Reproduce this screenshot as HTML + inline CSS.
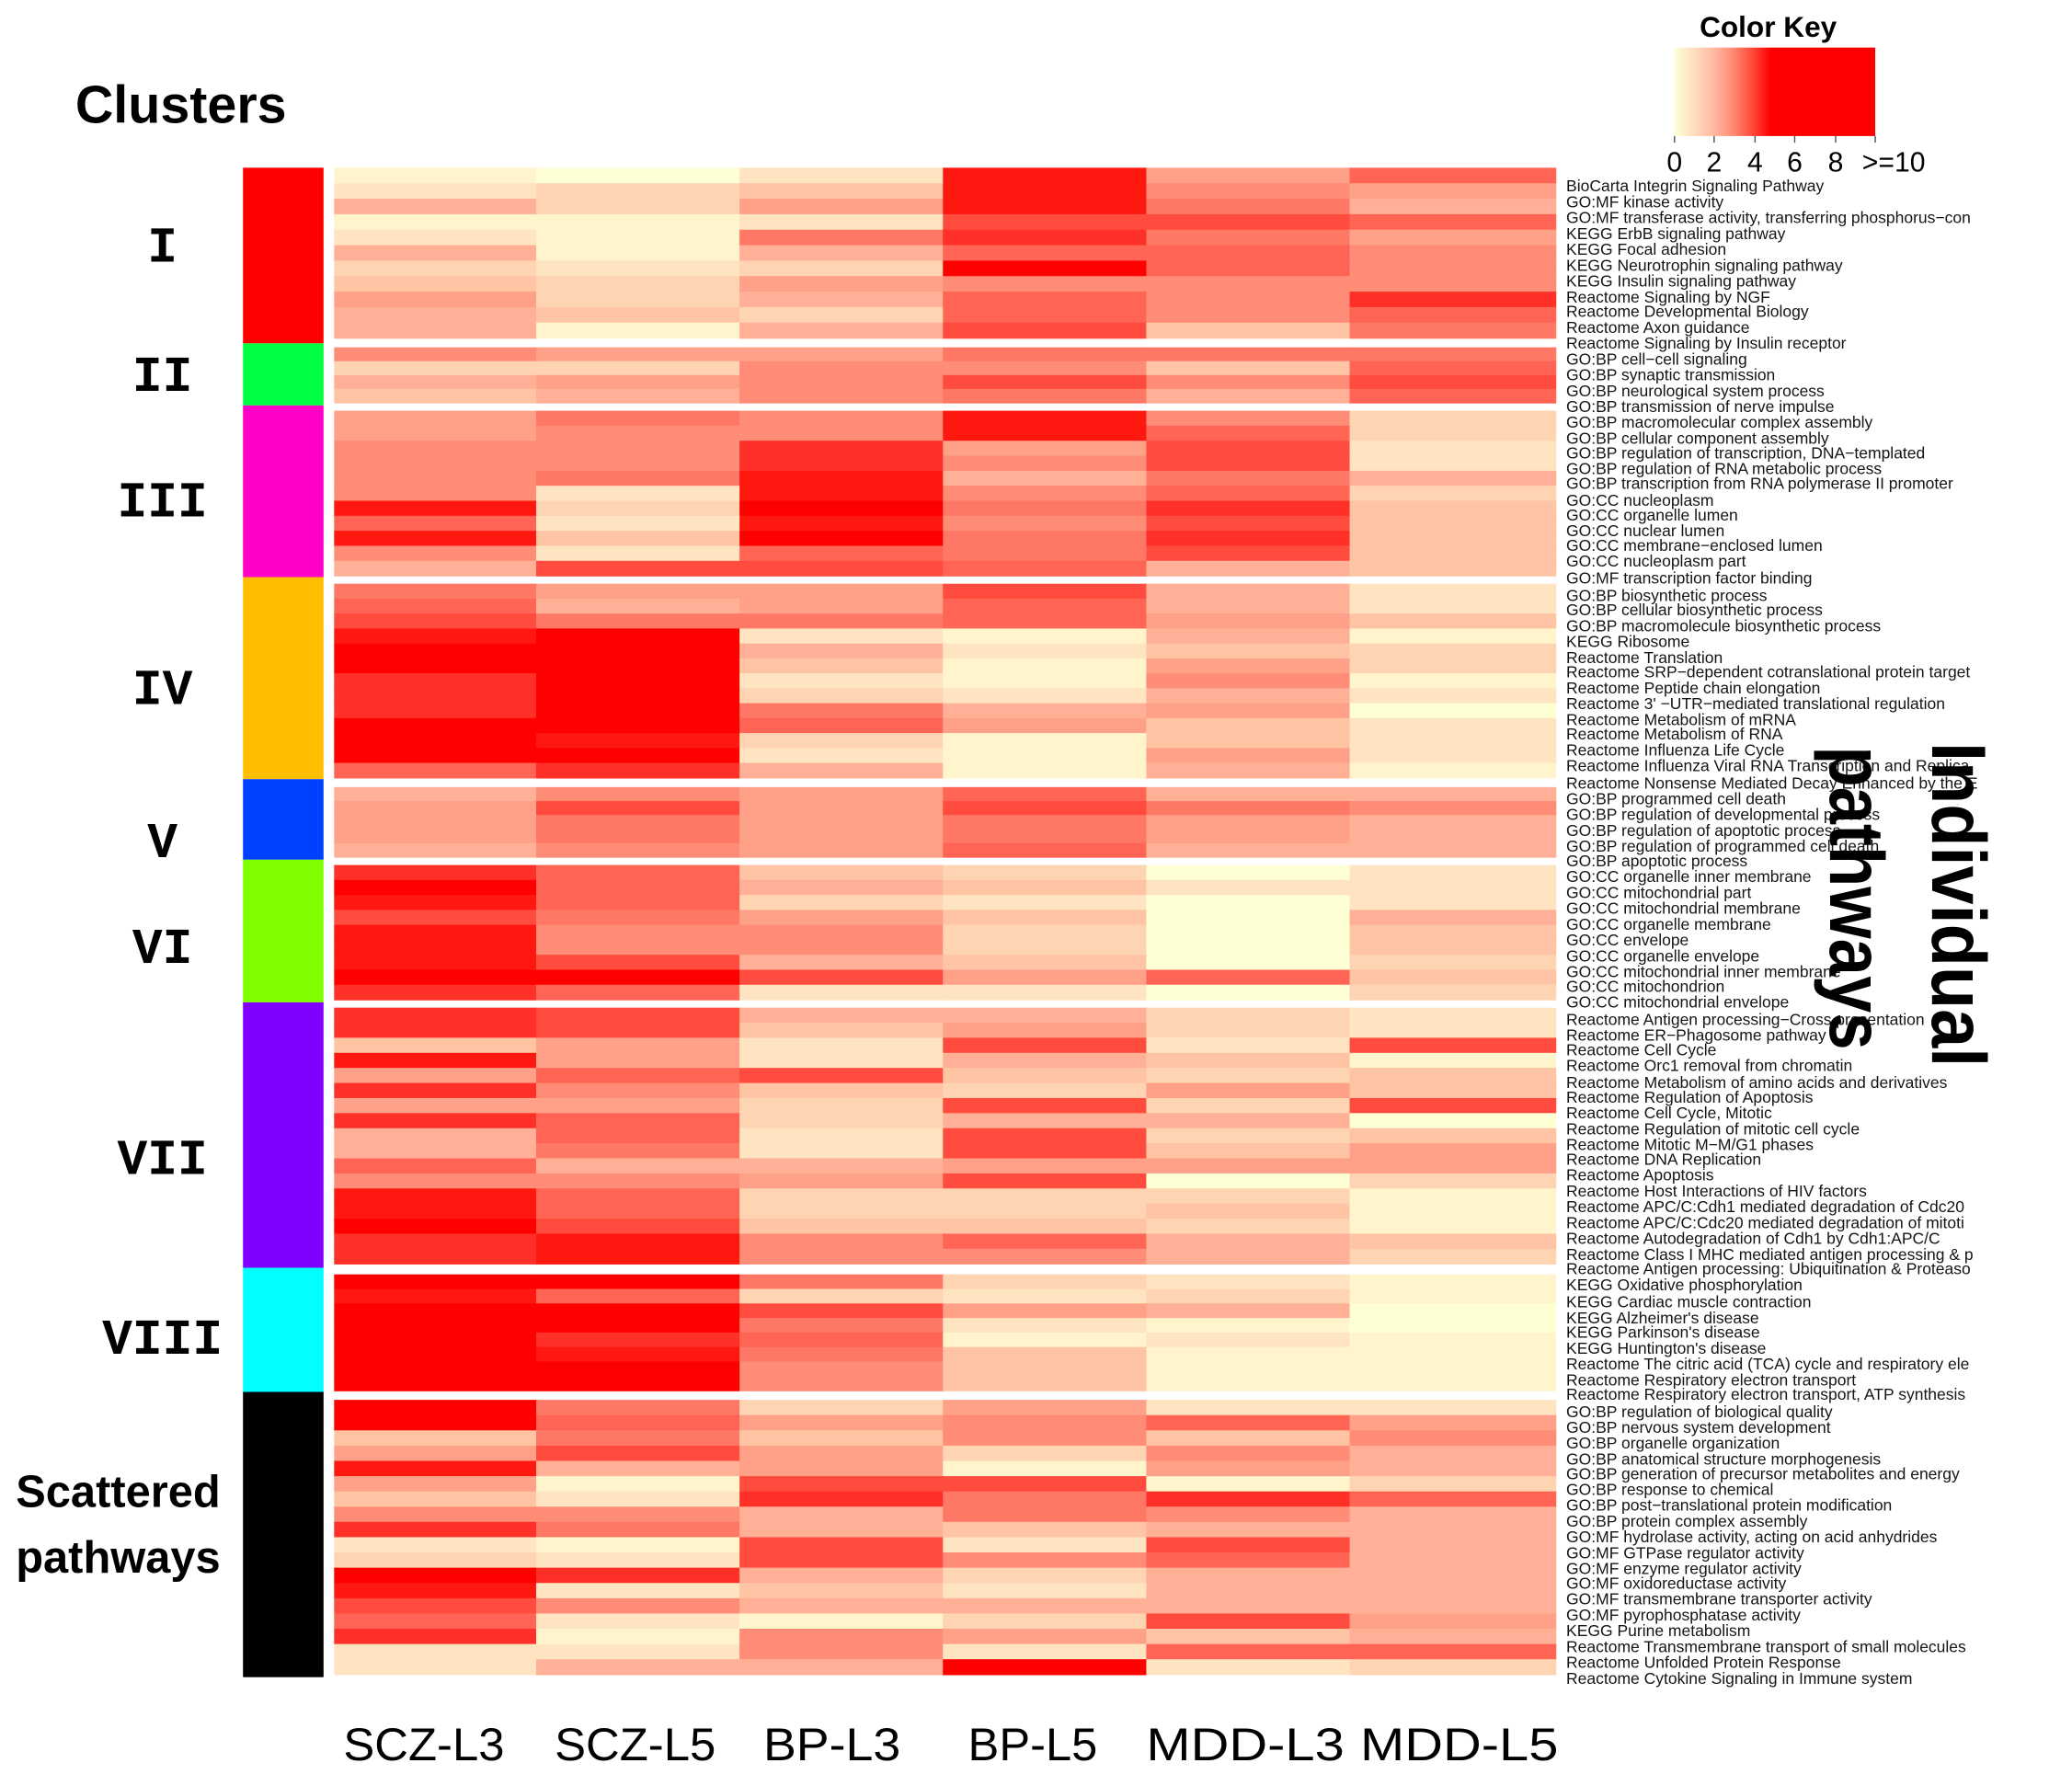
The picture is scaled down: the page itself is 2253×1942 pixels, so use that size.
<!DOCTYPE html>
<html><head><meta charset="utf-8">
<style>
html,body{margin:0;padding:0;background:#fff;}
svg{display:block;}
.rl{font-family:"Liberation Sans",Arial,sans-serif;font-size:12.2px;fill:#151515;}
.big{font-family:"Liberation Sans",Arial,sans-serif;font-weight:bold;fill:#000;}
.rom{font-family:"Liberation Mono","Courier New",monospace;font-weight:bold;font-size:38px;fill:#000;text-anchor:middle;}
.col{font-family:"Liberation Sans",Arial,sans-serif;font-size:35px;fill:#000;}
</style></head>
<body>
<svg id="s" xmlns="http://www.w3.org/2000/svg" width="2253" height="1942" viewBox="0 0 1569 1352.4">
<defs>
<linearGradient id="g" x1="0" x2="1" y1="0" y2="0">
<stop offset="0" stop-color="#FFFFD6"/>
<stop offset="0.08" stop-color="#FFE4C4"/>
<stop offset="0.2" stop-color="#FFB8A0"/>
<stop offset="0.3" stop-color="#FF8570"/>
<stop offset="0.4" stop-color="#FF4030"/>
<stop offset="0.48" stop-color="#FF0000"/>
<stop offset="1" stop-color="#FF0000"/>
</linearGradient>
</defs>
<g id="hm"></g>
<text class="big" x="57" y="93" font-size="40">Clusters</text>
<text class="rom" x="123" y="198">I</text>
<text class="rom" x="123" y="296">II</text>
<text class="rom" x="123" y="391">III</text>
<text class="rom" x="123" y="533">IV</text>
<text class="rom" x="123" y="649">V</text>
<text class="rom" x="123" y="729">VI</text>
<text class="rom" x="123" y="889">VII</text>
<text class="rom" x="123" y="1025">VIII</text>
<text class="big" x="12" y="1141" font-size="34">Scattered</text>
<text class="big" x="12" y="1191" font-size="34">pathways</text>
<text class="col" x="260" y="1333" textLength="122" lengthAdjust="spacingAndGlyphs">SCZ-L3</text>
<text class="col" x="420" y="1333" textLength="122" lengthAdjust="spacingAndGlyphs">SCZ-L5</text>
<text class="col" x="578" y="1333" textLength="104" lengthAdjust="spacingAndGlyphs">BP-L3</text>
<text class="col" x="733" y="1333" textLength="98" lengthAdjust="spacingAndGlyphs">BP-L5</text>
<text class="col" x="868" y="1333" textLength="150" lengthAdjust="spacingAndGlyphs">MDD-L3</text>
<text class="col" x="1030" y="1333" textLength="150" lengthAdjust="spacingAndGlyphs">MDD-L5</text>
<text class="big" font-size="22" x="1287" y="28">Color Key</text>
<rect x="1268" y="36" width="152" height="67" fill="url(#g)"/>
<g stroke="#555" stroke-width="1">
<line x1="1268" y1="103" x2="1268" y2="108"/><line x1="1298" y1="103" x2="1298" y2="108"/>
<line x1="1329" y1="103" x2="1329" y2="108"/><line x1="1359" y1="103" x2="1359" y2="108"/>
<line x1="1390" y1="103" x2="1390" y2="108"/><line x1="1420" y1="103" x2="1420" y2="108"/>
</g>
<g font-family="Liberation Sans,Arial,sans-serif" font-size="21" fill="#000" text-anchor="middle">
<text x="1268" y="130">0</text><text x="1298" y="130">2</text><text x="1329" y="130">4</text>
<text x="1359" y="130">6</text><text x="1390" y="130">8</text><text x="1434" y="130">&gt;=10</text>
</g>
<g class="rl">
<text x="1186" y="145">BioCarta Integrin Signaling Pathway</text>
<text x="1186" y="157">GO:MF kinase activity</text>
<text x="1186" y="169">GO:MF transferase activity, transferring phosphorus−con</text>
<text x="1186" y="181">KEGG ErbB signaling pathway</text>
<text x="1186" y="193">KEGG Focal adhesion</text>
<text x="1186" y="205">KEGG Neurotrophin signaling pathway</text>
<text x="1186" y="217">KEGG Insulin signaling pathway</text>
<text x="1186" y="229">Reactome Signaling by NGF</text>
<text x="1186" y="240">Reactome Developmental Biology</text>
<text x="1186" y="252">Reactome Axon guidance</text>
<text x="1186" y="264">Reactome Signaling by Insulin receptor</text>
<text x="1186" y="276">GO:BP cell−cell signaling</text>
<text x="1186" y="288">GO:BP synaptic transmission</text>
<text x="1186" y="300">GO:BP neurological system process</text>
<text x="1186" y="312">GO:BP transmission of nerve impulse</text>
<text x="1186" y="324">GO:BP macromolecular complex assembly</text>
<text x="1186" y="336">GO:BP cellular component assembly</text>
<text x="1186" y="347">GO:BP regulation of transcription, DNA−templated</text>
<text x="1186" y="359">GO:BP regulation of RNA metabolic process</text>
<text x="1186" y="370">GO:BP transcription from RNA polymerase II promoter</text>
<text x="1186" y="383">GO:CC nucleoplasm</text>
<text x="1186" y="394">GO:CC organelle lumen</text>
<text x="1186" y="406">GO:CC nuclear lumen</text>
<text x="1186" y="417">GO:CC membrane−enclosed lumen</text>
<text x="1186" y="429">GO:CC nucleoplasm part</text>
<text x="1186" y="442">GO:MF transcription factor binding</text>
<text x="1186" y="455">GO:BP biosynthetic process</text>
<text x="1186" y="466">GO:BP cellular biosynthetic process</text>
<text x="1186" y="478">GO:BP macromolecule biosynthetic process</text>
<text x="1186" y="490">KEGG Ribosome</text>
<text x="1186" y="502">Reactome Translation</text>
<text x="1186" y="513">Reactome SRP−dependent cotranslational protein target</text>
<text x="1186" y="525">Reactome Peptide chain elongation</text>
<text x="1186" y="537">Reactome 3' −UTR−mediated translational regulation</text>
<text x="1186" y="549">Reactome Metabolism of mRNA</text>
<text x="1186" y="560">Reactome Metabolism of RNA</text>
<text x="1186" y="572">Reactome Influenza Life Cycle</text>
<text x="1186" y="584">Reactome Influenza Viral RNA Transcription and Replica</text>
<text x="1186" y="597">Reactome Nonsense Mediated Decay Enhanced by the E</text>
<text x="1186" y="609">GO:BP programmed cell death</text>
<text x="1186" y="621">GO:BP regulation of developmental process</text>
<text x="1186" y="633">GO:BP regulation of apoptotic process</text>
<text x="1186" y="645">GO:BP regulation of programmed cell death</text>
<text x="1186" y="656">GO:BP apoptotic process</text>
<text x="1186" y="668">GO:CC organelle inner membrane</text>
<text x="1186" y="680">GO:CC mitochondrial part</text>
<text x="1186" y="692">GO:CC mitochondrial membrane</text>
<text x="1186" y="704">GO:CC organelle membrane</text>
<text x="1186" y="716">GO:CC envelope</text>
<text x="1186" y="728">GO:CC organelle envelope</text>
<text x="1186" y="740">GO:CC mitochondrial inner membrane</text>
<text x="1186" y="751">GO:CC mitochondrion</text>
<text x="1186" y="763">GO:CC mitochondrial envelope</text>
<text x="1186" y="776">Reactome Antigen processing−Cross presentation</text>
<text x="1186" y="788">Reactome ER−Phagosome pathway</text>
<text x="1186" y="799">Reactome Cell Cycle</text>
<text x="1186" y="811">Reactome Orc1 removal from chromatin</text>
<text x="1186" y="824">Reactome Metabolism of amino acids and derivatives</text>
<text x="1186" y="835">Reactome Regulation of Apoptosis</text>
<text x="1186" y="847">Reactome Cell Cycle, Mitotic</text>
<text x="1186" y="859">Reactome Regulation of mitotic cell cycle</text>
<text x="1186" y="871">Reactome Mitotic M−M/G1 phases</text>
<text x="1186" y="882">Reactome DNA Replication</text>
<text x="1186" y="894">Reactome Apoptosis</text>
<text x="1186" y="906">Reactome Host Interactions of HIV factors</text>
<text x="1186" y="918">Reactome APC/C:Cdh1 mediated degradation of Cdc20</text>
<text x="1186" y="930">Reactome APC/C:Cdc20 mediated degradation of mitoti</text>
<text x="1186" y="942">Reactome Autodegradation of Cdh1 by Cdh1:APC/C</text>
<text x="1186" y="954">Reactome Class I MHC mediated antigen processing &amp; p</text>
<text x="1186" y="965">Reactome Antigen processing: Ubiquitination &amp; Proteaso</text>
<text x="1186" y="977">KEGG Oxidative phosphorylation</text>
<text x="1186" y="990">KEGG Cardiac muscle contraction</text>
<text x="1186" y="1002">KEGG Alzheimer's disease</text>
<text x="1186" y="1013">KEGG Parkinson's disease</text>
<text x="1186" y="1025">KEGG Huntington's disease</text>
<text x="1186" y="1037">Reactome The citric acid (TCA) cycle and respiratory ele</text>
<text x="1186" y="1049">Reactome Respiratory electron transport</text>
<text x="1186" y="1060">Reactome Respiratory electron transport, ATP synthesis</text>
<text x="1186" y="1073">GO:BP regulation of biological quality</text>
<text x="1186" y="1085">GO:BP nervous system development</text>
<text x="1186" y="1097">GO:BP organelle organization</text>
<text x="1186" y="1109">GO:BP anatomical structure morphogenesis</text>
<text x="1186" y="1120">GO:BP generation of precursor metabolites and energy</text>
<text x="1186" y="1132">GO:BP response to chemical</text>
<text x="1186" y="1144">GO:BP post−translational protein modification</text>
<text x="1186" y="1156">GO:BP protein complex assembly</text>
<text x="1186" y="1168">GO:MF hydrolase activity, acting on acid anhydrides</text>
<text x="1186" y="1180">GO:MF GTPase regulator activity</text>
<text x="1186" y="1192">GO:MF enzyme regulator activity</text>
<text x="1186" y="1203">GO:MF oxidoreductase activity</text>
<text x="1186" y="1215">GO:MF transmembrane transporter activity</text>
<text x="1186" y="1227">GO:MF pyrophosphatase activity</text>
<text x="1186" y="1239">KEGG Purine metabolism</text>
<text x="1186" y="1251">Reactome Transmembrane transport of small molecules</text>
<text x="1186" y="1263">Reactome Unfolded Protein Response</text>
<text x="1186" y="1275">Reactome Cytokine Signaling in Immune system</text>
</g>
<text class="big" font-size="58" transform="translate(1463,562) rotate(90)" textLength="246" lengthAdjust="spacingAndGlyphs">Individual</text>
<text class="big" font-size="58" transform="translate(1386,565) rotate(90)" textLength="230" lengthAdjust="spacingAndGlyphs">pathways</text>
</svg>
<script>
(function(){
var P={a:"#FFFFD6",b:"#FFF4CC",c:"#FFE4C2",d:"#FFD4B2",e:"#FFC4A4",f:"#FFB096",g:"#FFA088",h:"#FF8C76",i:"#FF7866",j:"#FF6454",k:"#FF4C3E",l:"#FF3028",m:"#FF1810",n:"#FF0000"};
var C=[
{t:127,b:256,bt:127,bb:260,col:"#FF0000",r:["bacmgj","cdemhg","fdgmif","bbckkj","cbilig","fbfjjh","dcdnjh","edghhh","gdfjhl","fedjhj","fbfkei"]},
{t:263,b:305,bt:260,bb:307,col:"#00FF40",r:["hggiii","ddhhej","fghkhk","efhifj"]},
{t:311,b:436,bt:307,bb:437,col:"#FF00C8",r:["gihmhd","ghhmjd","hhlgkc","hhlhkc","himfif","hcmhjd","mdnile","jcmhke","menile","hcjike","fkkjfe"]},
{t:442,b:589,bt:437,bb:590,col:"#FFBF00",r:["iggkfc","jfgjfc","kiijge","mncbfb","nnfced","nnebgd","lncbhb","lndcfc","lnifga","nnjgec","nmdbec","nncbgc","jlfbfb"]},
{t:596,b:649,bt:590,bb:651,col:"#0040FF",r:["fhgjff","gkgkih","gigigf","gigigf","fhgjff"]},
{t:655,b:757,bt:651,bb:759,col:"#80FF00",r:["ljedac","njfecc","mjdcac","kigeaf","mhhdae","mhhdae","mkfead","nnkgje","ljccad"]},
{t:763,b:957,bt:759,bb:960,col:"#8000FF",r:["lkffdc","lkegdc","egckck","mgcfeb","gjkede","lhedge","ggdkdk","ljdffa","fjckde","fickeg","jffggg","hhgkad","mjdddb","mjddeb","nkeedb","lmhjfe","lmhhfd"]},
{t:965,b:1053,bt:960,bb:1054,col:"#00FFFF",r:["nnidcb","mjdcdb","nnkgfa","nnicba","nljbcb","nmiebb","nnhebb","nnhebb"]},
{t:1060,b:1268,bt:1054,bb:1270,col:"#000000",r:["nidgcc","njghjg","eieheh","gkgdhf","mfgbgf","gbkkbd","eclilj","hhfihf","lifeff","cbkckf","dckhjf","nlfdff","mcecff","khffff","jcbdkg","lbhgef","cchcjj","cffncd"]}
];
var X=[253,406,560,714,868,1022,1178];
var g=document.getElementById("hm"),s="";
C.forEach(function(c){
 s+='<rect x="184" y="'+c.bt+'" width="61" height="'+(c.bb-c.bt)+'" fill="'+c.col+'"/>';
 var n=c.r.length,h=(c.b-c.t)/n;
 c.r.forEach(function(row,i){
  for(var j=0;j<6;j++){
   s+='<rect x="'+X[j]+'" y="'+(c.t+i*h).toFixed(2)+'" width="'+(X[j+1]-X[j]+0.5)+'" height="'+(h+0.5).toFixed(2)+'" fill="'+P[row[j]]+'"/>';
  }
 });
});
g.innerHTML=s;
})();
</script>
</body></html>
